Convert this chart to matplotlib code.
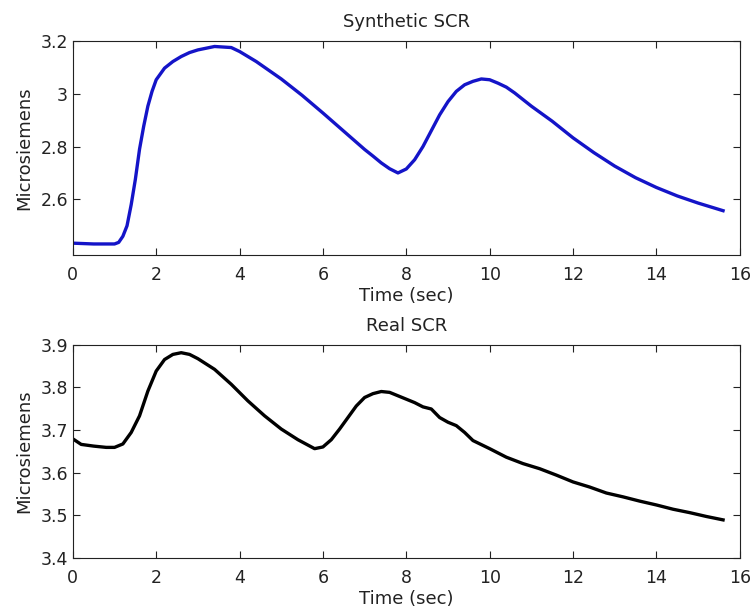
import matplotlib
matplotlib.use("Agg")
import matplotlib.pyplot as plt

# Synthetic SCR
syn_t = [0.0, 0.5, 1.0, 1.1, 1.2, 1.3, 1.4, 1.5, 1.6, 1.7, 1.8, 1.9, 2.0, 2.2,
         2.4, 2.6, 2.8, 3.0, 3.4, 3.8, 4.0, 4.4, 4.8, 5.0, 5.5, 6.0, 6.5, 7.0,
         7.2, 7.4, 7.6, 7.8, 8.0, 8.2, 8.4, 8.6, 8.8, 9.0, 9.2, 9.4, 9.6,
         9.8, 10.0, 10.2, 10.4, 10.6, 11.0, 11.5, 12.0, 12.5, 13.0, 13.5, 14.0,
         14.5, 15.0, 15.6]
syn_v = [2.434, 2.431, 2.431, 2.437, 2.46, 2.50, 2.58, 2.676, 2.79, 2.877,
         2.953, 3.009, 3.053, 3.097, 3.122, 3.141, 3.156, 3.166, 3.179, 3.175,
         3.16, 3.122, 3.078, 3.056, 2.994, 2.927, 2.858, 2.789, 2.764, 2.738,
         2.716, 2.70, 2.715, 2.75, 2.80, 2.86, 2.92, 2.97, 3.009,
         3.034, 3.047, 3.056, 3.053, 3.04, 3.025, 3.003, 2.953, 2.896, 2.833,
         2.777, 2.726, 2.682, 2.645, 2.613, 2.586, 2.557]

# Real SCR
real_t = [0.0, 0.2, 0.5, 0.8, 1.0, 1.2, 1.4, 1.6, 1.8, 2.0, 2.2, 2.4, 2.6, 2.8,
          3.0, 3.4, 3.8, 4.2, 4.6, 5.0, 5.4, 5.8, 6.0, 6.2, 6.4, 6.6, 6.8, 7.0,
          7.2, 7.4, 7.6, 7.8, 8.0, 8.2, 8.4, 8.6, 8.8, 9.0, 9.2, 9.4, 9.6, 10.0,
          10.4, 10.8, 11.2, 11.6, 12.0, 12.4, 12.8, 13.2, 13.6, 14.0, 14.4,
          14.8, 15.2, 15.6]
real_v = [3.679, 3.666, 3.662, 3.659, 3.659, 3.667, 3.694, 3.733, 3.791, 3.838,
          3.865, 3.877, 3.881, 3.877, 3.867, 3.842, 3.807, 3.768, 3.733, 3.702,
          3.677, 3.656, 3.66, 3.677, 3.702, 3.729, 3.756, 3.776, 3.785, 3.79,
          3.788, 3.78, 3.772, 3.764, 3.754, 3.749, 3.729, 3.718, 3.71, 3.694,
          3.675, 3.656, 3.636, 3.621, 3.609, 3.594, 3.578, 3.566, 3.552, 3.543,
          3.533, 3.524, 3.514, 3.506, 3.497, 3.489]

plt.rcParams['font.family'] = ['DejaVu Sans']
LABEL_FS = 13
TICK_FS = 12.5

fig = plt.figure(figsize=(7.51, 6.11), dpi=100)
ax1 = fig.add_axes([0.097, 0.583, 0.888, 0.350])
ax2 = fig.add_axes([0.097, 0.087, 0.888, 0.349])


# matlab-ish box with inward ticks on all sides
def style(ax, title):
    ax.set_xlim(0, 16)
    ax.set_xticks(range(0, 17, 2))
    ax.tick_params(direction='in', top=True, right=True, length=5, width=0.8,
                   labelsize=TICK_FS, color='#222222', labelcolor='#222222')
    ax.tick_params(axis='x', pad=8)
    ax.tick_params(axis='y', pad=3.5)
    for s in ax.spines.values():
        s.set_linewidth(0.8)
        s.set_color('#222222')
    ax.set_title(title, fontsize=LABEL_FS, pad=10, color='#222222')
    ax.set_xlabel('Time (sec)', fontsize=LABEL_FS, labelpad=2, color='#222222')
    ax.set_ylabel('Microsiemens', fontsize=LABEL_FS, labelpad=5, color='#222222')


ax1.plot(syn_t, syn_v, color='#1414c8', lw=2.4)
ax1.set_ylim(2.39, 3.2)
ax1.set_yticks([2.6, 2.8, 3.0, 3.2])
ax1.set_yticklabels(['2.6', '2.8', '3', '3.2'])
style(ax1, 'Synthetic SCR')

ax2.plot(real_t, real_v, color='black', lw=2.4)
ax2.set_ylim(3.4, 3.9)
ax2.set_yticks([3.4, 3.5, 3.6, 3.7, 3.8, 3.9])
style(ax2, 'Real SCR')

fig.savefig('out.png', dpi=100)
